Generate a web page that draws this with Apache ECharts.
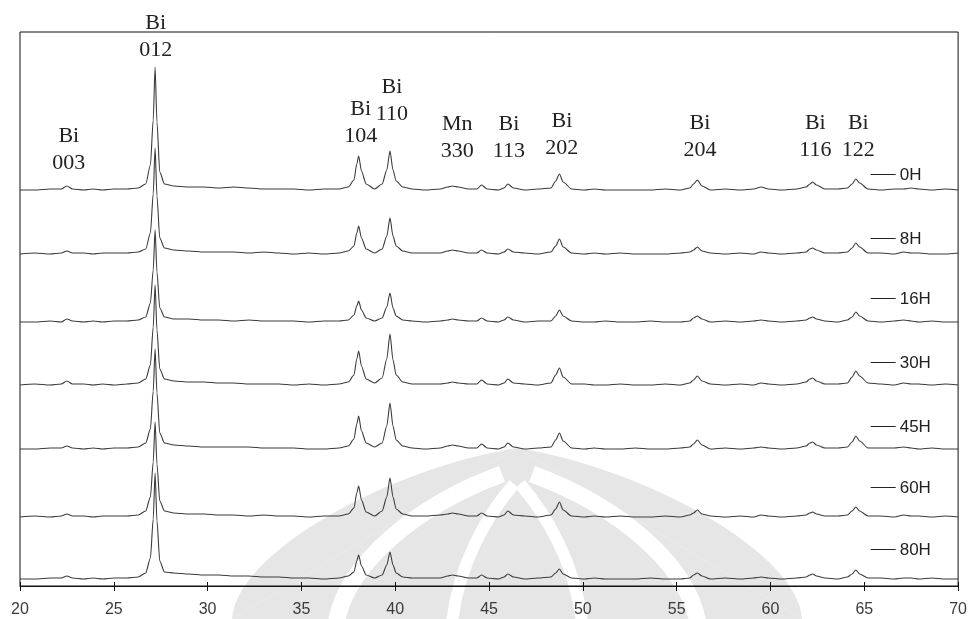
<!DOCTYPE html>
<html>
<head>
<meta charset="utf-8">
<script src="https://cdn.jsdelivr.net/npm/echarts@6/dist/echarts.min.js"></script>
<style>
  html, body { margin: 0; padding: 0; background: #fff; }
  #chart { width: 970px; height: 619px; }
</style>
</head>
<body>
<div id="chart"></div>
<script>
// 2θ sampling positions (degrees) shared by every pattern
const twoTheta = [
  20.0, 20.8, 21.6, 22.2, 22.5, 22.8, 23.4, 23.9, 24.4, 25.0,
  25.7, 26.3, 26.7, 26.95, 27.1, 27.2, 27.3, 27.45, 27.7, 28.2,
  29.0, 29.8, 30.6, 31.4, 32.2, 33.0, 33.8, 34.6, 35.4, 36.2,
  37.0, 37.5, 37.8, 37.95, 38.05, 38.2, 38.45, 38.9, 39.3, 39.55,
  39.72, 39.88, 40.05, 40.4, 40.9, 41.6, 42.4, 42.8, 43.05, 43.35,
  43.9, 44.35, 44.6, 44.9, 45.5, 45.8, 46.0, 46.3, 46.9, 47.6,
  48.3, 48.55, 48.75, 48.95, 49.4, 50.1, 50.6, 51.2, 52.0, 52.8,
  53.6, 54.4, 55.2, 55.7, 55.9, 56.1, 56.35, 56.8, 57.6, 58.4,
  59.1, 59.5, 59.9, 60.6, 61.4, 61.9, 62.1, 62.25, 62.45, 62.9,
  63.6, 64.1, 64.35, 64.55, 64.75, 65.2, 65.9, 66.6, 67.1, 67.5,
  67.9, 68.6, 69.3, 70.0
];

// milling time of each pattern
const sampleNames = ['0H', '8H', '16H', '30H', '45H', '60H', '80H'];

// intensities above each pattern's own baseline (arbitrary units)
const int0H = [
  0, 0, 1, 1, 4, 1, 0, 1, 0, 1,
  1, 2, 6, 25, 70, 123, 68, 18, 6, 4,
  3, 3, 2, 3, 2, 1, 1, 1, 0, 1,
  1, 3, 10, 26, 34, 19, 6, 1, 6, 20,
  39, 20, 9, 3, 1, 0, 1, 3, 4, 3,
  1, 1, 5, 1, 0, 2, 6, 2, 0, 1,
  2, 9, 16, 8, 1, 0, 1, 0, 0, 0,
  0, 1, 0, 2, 6, 10, 4, 0, 1, 0,
  1, 3, 1, 0, 1, 3, 6, 8, 5, 1,
  1, 2, 6, 11, 7, 1, 0, 1, 1, 2,
  1, 0, 1, 0
];
const int8H = [
  0, 1, 0, 1, 3, 1, 1, 0, 1, 1,
  1, 2, 5, 21, 60, 106, 58, 16, 6, 4,
  3, 2, 2, 2, 1, 2, 1, 0, 1, 0,
  1, 3, 8, 21, 28, 16, 5, 1, 5, 18,
  36, 18, 8, 3, 1, 1, 1, 3, 4, 3,
  1, 1, 4, 1, 0, 2, 5, 2, 1, 0,
  2, 8, 15, 7, 1, 0, 1, 0, 1, 0,
  0, 0, 1, 2, 4, 7, 3, 1, 0, 1,
  0, 2, 1, 0, 1, 2, 5, 6, 4, 1,
  1, 2, 6, 11, 7, 1, 1, 0, 2, 1,
  1, 0, 0, 1
];
const int16H = [
  0, 0, 1, 0, 3, 1, 0, 1, 0, 1,
  1, 2, 5, 19, 52, 92, 50, 14, 5, 3,
  3, 2, 2, 1, 2, 1, 1, 1, 0, 1,
  1, 2, 7, 16, 21, 12, 4, 1, 4, 15,
  29, 14, 6, 2, 1, 0, 1, 2, 3, 2,
  1, 1, 4, 1, 0, 2, 5, 2, 0, 1,
  1, 6, 12, 6, 1, 0, 0, 1, 0, 0,
  1, 0, 0, 1, 4, 6, 3, 0, 1, 0,
  1, 2, 1, 0, 1, 2, 4, 5, 3, 1,
  0, 2, 5, 10, 6, 1, 0, 1, 2, 1,
  0, 1, 0, 0
];
const int30H = [
  0, 1, 0, 1, 4, 1, 1, 0, 1, 0,
  1, 2, 6, 20, 58, 100, 55, 16, 6, 4,
  3, 3, 2, 2, 1, 1, 1, 0, 1, 0,
  1, 3, 10, 26, 34, 19, 6, 2, 7, 26,
  51, 25, 10, 3, 1, 1, 1, 2, 3, 2,
  1, 1, 5, 1, 0, 2, 6, 2, 1, 0,
  2, 10, 17, 8, 1, 1, 0, 0, 1, 0,
  0, 1, 0, 2, 5, 9, 4, 1, 0, 1,
  0, 2, 1, 0, 1, 3, 6, 7, 4, 1,
  1, 2, 8, 14, 9, 2, 1, 0, 2, 1,
  1, 0, 1, 0
];
const int45H = [
  0, 0, 1, 1, 3, 1, 0, 1, 0, 1,
  1, 2, 6, 20, 58, 100, 56, 16, 6, 4,
  3, 2, 2, 2, 2, 1, 1, 1, 0, 0,
  1, 3, 10, 25, 33, 18, 6, 2, 6, 23,
  46, 23, 9, 3, 1, 0, 1, 3, 4, 3,
  1, 1, 5, 1, 0, 2, 6, 2, 0, 1,
  2, 9, 16, 8, 1, 0, 1, 0, 0, 1,
  0, 0, 1, 2, 5, 9, 4, 0, 1, 0,
  1, 2, 1, 0, 1, 3, 6, 7, 4, 1,
  1, 2, 7, 13, 8, 1, 1, 1, 2, 1,
  0, 1, 0, 0
];
const int60H = [
  0, 1, 0, 1, 3, 1, 1, 0, 1, 1,
  1, 2, 6, 20, 55, 95, 53, 16, 6, 4,
  3, 3, 2, 2, 1, 2, 1, 1, 0, 1,
  1, 3, 9, 24, 31, 17, 5, 1, 6, 20,
  39, 20, 8, 3, 1, 1, 2, 3, 4, 3,
  1, 1, 4, 1, 0, 2, 6, 2, 1, 0,
  2, 8, 15, 7, 1, 0, 1, 0, 1, 0,
  0, 1, 0, 2, 4, 7, 3, 1, 0, 1,
  0, 2, 1, 0, 1, 2, 4, 5, 3, 1,
  1, 2, 6, 10, 6, 1, 1, 0, 2, 1,
  1, 0, 1, 0
];
const int80H = [
  0, 0, 1, 1, 3, 1, 0, 1, 0, 1,
  1, 2, 6, 21, 60, 106, 58, 18, 7, 6,
  5, 4, 4, 3, 3, 2, 2, 1, 1, 0,
  1, 3, 7, 18, 24, 13, 4, 1, 4, 14,
  27, 14, 6, 2, 1, 1, 1, 3, 4, 3,
  1, 1, 4, 1, 0, 2, 5, 2, 0, 1,
  2, 6, 10, 5, 1, 0, 1, 0, 0, 0,
  1, 0, 0, 1, 4, 6, 3, 0, 1, 0,
  1, 2, 1, 0, 1, 2, 4, 5, 3, 1,
  0, 2, 5, 9, 5, 1, 1, 0, 1, 1,
  0, 1, 0, 0
];
const intensities = [int0H, int8H, int16H, int30H, int45H, int60H, int80H];

// vertical offset applied to each pattern so they stack
const offsets = [396, 332, 264, 201, 137, 69, 7];

// x-axis tick values
const xTicks = [20, 25, 30, 35, 40, 45, 50, 55, 60, 65, 70];

// reflection labels: [phase, hkl, 2θ of the label, height of the label]
const reflections = [
  ['Bi', '003', 22.60, 436],
  ['Bi', '012', 27.23, 549.5],
  ['Bi', '104', 38.16, 463.5],
  ['Bi', '110', 39.82, 485.5],
  ['Mn', '330', 43.31, 448.5],
  ['Bi', '113', 46.06, 448.5],
  ['Bi', '202', 48.88, 451],
  ['Bi', '204', 56.24, 449.5],
  ['Bi', '116', 62.39, 449.5],
  ['Bi', '122', 64.68, 449.5]
];

// where each sample name sits (2θ of the key line start, height)
const keyX = 65.34;
const keyHeights = [412, 348, 288, 224, 160, 99, 37];

const chart = echarts.init(document.getElementById('chart'), null, { renderer: 'canvas' });

const series = sampleNames.map((name, i) => ({
  name: name,
  type: 'line',
  showSymbol: false,
  symbol: 'none',
  animation: false,
  silent: true,
  smooth: 0.25,
  smoothMonotone: 'x',
  z: 3,
  lineStyle: { color: '#3a3a3a', width: 1.1 },
  data: twoTheta.map((t, k) => [t, intensities[i][k] + offsets[i]])
}));

const axisCommon = {
  type: 'value',
  min: xTicks[0],
  max: xTicks[xTicks.length - 1],
  interval: xTicks[1] - xTicks[0],
  splitLine: { show: false }
};

chart.setOption({
  backgroundColor: '#fff',
  animation: false,
  grid: {
    left: 20, right: 9, top: 32, bottom: 33,
    show: true, borderColor: '#111', borderWidth: 1,
    backgroundColor: 'transparent'
  },
  xAxis: [
    Object.assign({}, axisCommon, {
      axisLine: { show: true, lineStyle: { color: '#111', width: 1 } },
      axisTick: { show: true, inside: false, length: 5, lineStyle: { color: '#111' } },
      axisLabel: {
        show: true, margin: 16, fontSize: 16,
        fontFamily: 'Liberation Sans, Arial, sans-serif', color: '#3a3a3a'
      }
    }),
    Object.assign({}, axisCommon, {
      position: 'bottom',
      axisLine: { show: false },
      axisTick: { show: true, inside: true, length: 4, lineStyle: { color: '#111' } },
      axisLabel: { show: false }
    })
  ],
  yAxis: { type: 'value', min: 0, max: 554, show: false },
  series: series
});

// faint emblem printed behind the lower part of the plot
const emblemFill = '#e6e6e6';
const emblem = [
  {
    type: 'polygon', silent: true, z: -10,
    shape: { points: [[232, 619], [517, 448], [802, 619]] },
    style: { fill: emblemFill }
  },
  {
    type: 'bezierCurve', silent: true, z: -10,
    shape: { x1: 232, y1: 619, cpx1: 236, cpy1: 552, cpx2: 390, cpy2: 468, x2: 517, y2: 448 },
    style: { fill: emblemFill, stroke: null }
  },
  {
    type: 'bezierCurve', silent: true, z: -10,
    shape: { x1: 517, y1: 448, cpx1: 644, cpy1: 468, cpx2: 798, cpy2: 552, x2: 802, y2: 619 },
    style: { fill: emblemFill, stroke: null }
  },
  {
    type: 'bezierCurve', silent: true, z: -9,
    shape: { x1: 336, y1: 624, cpx1: 346, cpy1: 562, cpx2: 420, cpy2: 504, x2: 502, y2: 474 },
    style: { stroke: '#fff', lineWidth: 17, fill: null }
  },
  {
    type: 'bezierCurve', silent: true, z: -9,
    shape: { x1: 698, y1: 624, cpx1: 688, cpy1: 562, cpx2: 614, cpy2: 504, x2: 532, y2: 474 },
    style: { stroke: '#fff', lineWidth: 17, fill: null }
  },
  {
    type: 'bezierCurve', silent: true, z: -9,
    shape: { x1: 452, y1: 624, cpx1: 458, cpy1: 564, cpx2: 488, cpy2: 514, x2: 514, y2: 484 },
    style: { stroke: '#fff', lineWidth: 12, fill: null }
  },
  {
    type: 'bezierCurve', silent: true, z: -9,
    shape: { x1: 582, y1: 624, cpx1: 576, cpy1: 564, cpx2: 546, cpy2: 514, x2: 520, y2: 484 },
    style: { stroke: '#fff', lineWidth: 12, fill: null }
  }
];

// reflection labels and sample keys placed in data coordinates
const px = (x, y) => chart.convertToPixel({ gridIndex: 0 }, [x, y]);
const graphics = emblem.slice();
reflections.forEach(r => {
  const p = px(r[2], r[3]);
  graphics.push({
    type: 'text', x: p[0], y: p[1], silent: true, z: 10,
    style: {
      text: r[0] + '\n' + r[1],
      font: '22px "Liberation Serif", "Times New Roman", serif',
      lineHeight: 27,
      fill: '#222', align: 'center', verticalAlign: 'middle'
    }
  });
});
sampleNames.forEach((name, i) => {
  const p = px(keyX, keyHeights[i]);
  graphics.push({
    type: 'line', silent: true, z: 10,
    shape: { x1: p[0], y1: p[1] + 0.5, x2: p[0] + 25, y2: p[1] + 0.5 },
    style: { stroke: '#222', lineWidth: 1 }
  });
  graphics.push({
    type: 'text', x: p[0] + 29, y: p[1] + 1, silent: true, z: 10,
    style: {
      text: name,
      font: '17px "Liberation Sans", Arial, sans-serif',
      fill: '#222', align: 'left', verticalAlign: 'middle'
    }
  });
});
chart.setOption({ graphic: graphics });
</script>
</body>
</html>
